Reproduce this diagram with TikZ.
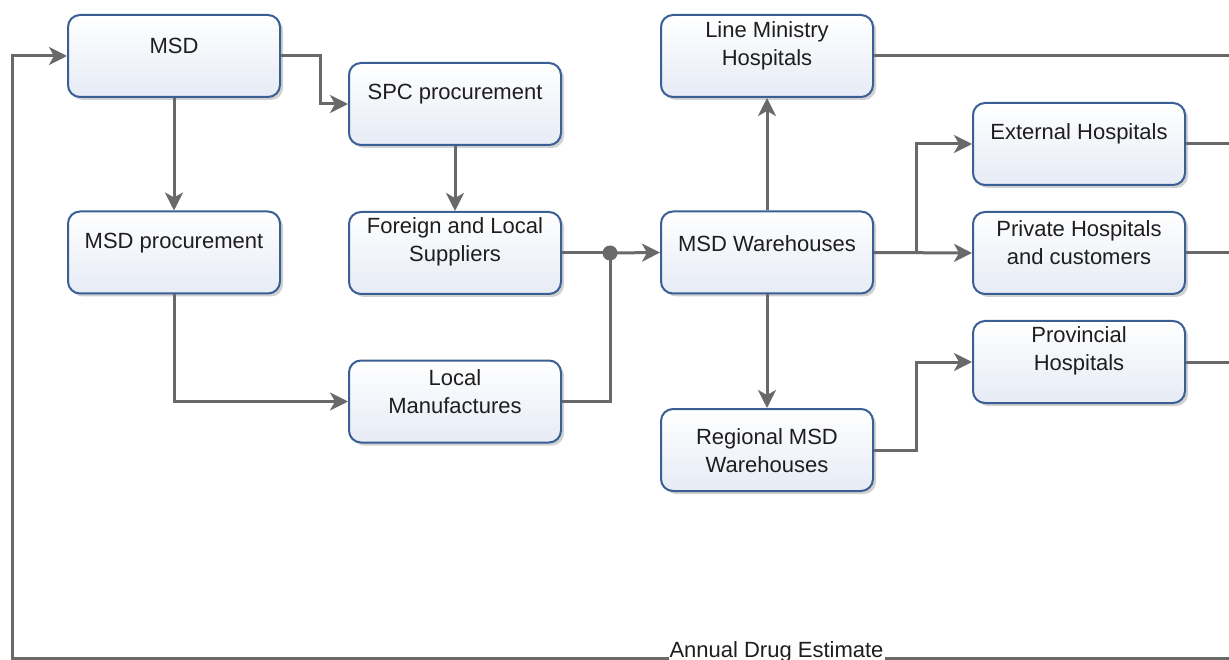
\documentclass[tikz,border=0pt]{standalone}
\usepackage{fontspec}
\setmainfont{Liberation Sans}
\usetikzlibrary{arrows.meta,shadows,calc}
\definecolor{boxborder}{RGB}{58,95,148}
\definecolor{boxbot}{RGB}{230,235,245}
\definecolor{linegray}{RGB}{105,105,105}
\definecolor{txtgray}{RGB}{30,30,30}
\tikzset{
  box/.style={draw=boxborder, line width=2pt, rounded corners=12pt,
    top color=white, bottom color=boxbot, minimum width=212pt, minimum height=82pt,
    drop shadow={shadow xshift=3pt, shadow yshift=-3pt, opacity=0.18, fill=black}},
  txt/.style={align=center, text=txtgray, font=\fontsize{22}{28}\selectfont, inner sep=0pt},
  conn/.style={draw=linegray, line width=3pt, -{Stealth[length=18pt,width=18pt,inset=5pt]}},
  plain/.style={draw=linegray, line width=3pt},
}
\begin{document}
\begin{tikzpicture}[x=1pt,y=-1pt]
\useasboundingbox (0,0) rectangle (1229,660);
% boxes
\node[box] (msd) at (174,56) {};
\node[txt] (msdt) at ([yshift=10pt]msd.center) {MSD};
\node[box] (spc) at (455,104) {};
\node[txt] (spct) at ([yshift=10pt]spc.center) {SPC procurement};
\node[box] (fls) at (455,253) {};
\node[txt] (flst) at ([yshift=11pt]fls.center) {Foreign and Local\\Suppliers};
\node[box] (msdp) at (174,252.5) {};
\node[txt] (msdpt) at ([yshift=9pt]msdp.center) {MSD procurement};
\node[box] (lm) at (455,401.5) {};
\node[txt] (lmt) at ([yshift=10pt]lm.center) {Local\\Manufactures};
\node[box] (lmh) at (767,56) {};
\node[txt] (lmht) at ([yshift=10pt]lmh.center) {Line Ministry\\Hospitals};
\node[box] (mw) at (767,252.5) {};
\node[txt] (mwt) at ([yshift=9pt]mw.center) {MSD Warehouses};
\node[box] (rmw) at (767,450) {};
\node[txt] (rmwt) at ([yshift=-1pt]rmw.center) {Regional MSD\\Warehouses};
\node[box] (eh) at (1079,144) {};
\node[txt] (eht) at ([yshift=10pt]eh.center) {External Hospitals};
\node[box] (ph) at (1079,253) {};
\node[txt] (pht) at ([yshift=10pt]ph.center) {Private Hospitals\\and customers};
\node[box] (prh) at (1079,362) {};
\node[txt] (prht) at ([yshift=11pt]prh.center) {Provincial\\Hospitals};
% junction dot
\coordinate (j) at (610,253);
% free ends at the right edge
\coordinate (e1) at (1231,56);
\coordinate (e2) at (1231,144);
\coordinate (e3) at (1231,253);
\coordinate (e4) at (1231,362);
\coordinate (e5) at (1231,658);
\coordinate (c1) at (12,658);
% connectors
\draw[conn] (msd.east) -- (320,56) |- (spc.west);
\draw[conn] (msd.south) -- (msdp.north);
\draw[conn] (spc.south) -- (fls.north);
\draw[conn] (msdp.south) |- (lm.west);
\draw[plain] (fls.east) -- (j);
\draw[plain] (lm.east) -| (j);
\draw[conn] (j) -- (mw.west);
\fill[linegray] (j) circle (7.5pt);
\draw[conn] (mw.north) -- (lmh.south);
\draw[conn] (mw.south) -- (rmw.north);
\draw[conn] (mw.east) -- (ph.west);
\draw[conn] (916,253) |- (eh.west);
\draw[conn] (rmw.east) -- (916,450) |- (prh.west);
\draw[plain] (lmh.east) -- (e1);
\draw[plain] (eh.east) -- (e2);
\draw[plain] (ph.east) -- (e3);
\draw[plain] (prh.east) -- (e4);
\draw[conn] (e5) -- (c1) |- (msd.west);
\node[txt, fill=white, inner xsep=1pt, inner ysep=1.5pt, anchor=base] (ade) at (776.5,657) {Annual Drug Estimate};
\end{tikzpicture}
\end{document}
